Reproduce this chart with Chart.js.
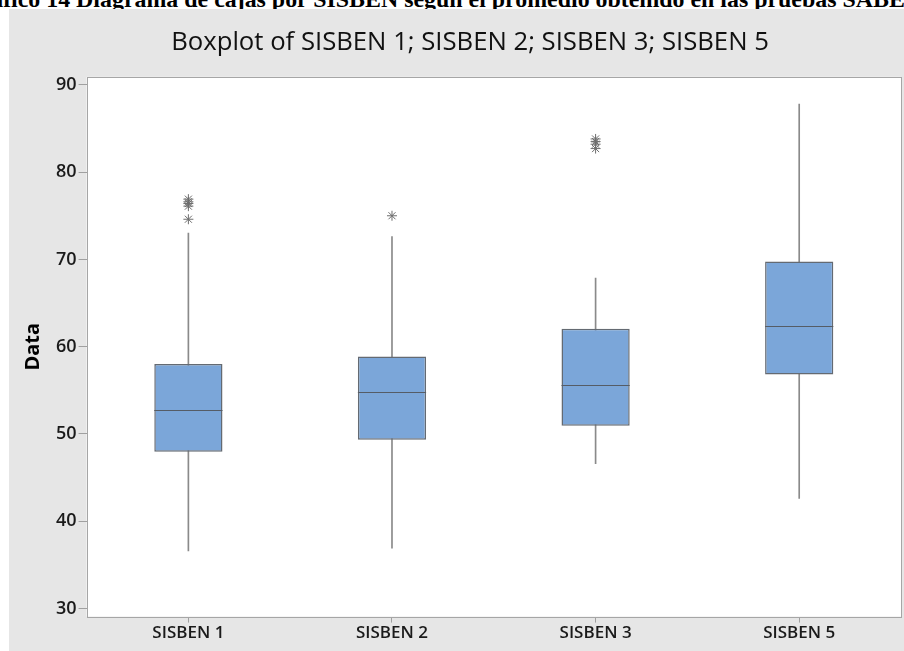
<!DOCTYPE html>
<html><head><meta charset="utf-8">
<script src="https://cdn.jsdelivr.net/npm/chart.js@4.4.0/dist/chart.umd.min.js"></script>
<style>
html,body{margin:0;padding:0;width:904px;height:651px;overflow:hidden;background:#fff;position:relative}
#cap{position:absolute;top:-12px;left:0;white-space:nowrap;font:bold 23.9px "Liberation Serif","Times New Roman",serif;line-height:23px;color:#000}
#wrap{position:absolute;left:9px;top:9px;width:922px;height:642px;background:#e6e6e6}
</style></head><body>
<div id="cap"><span id="pre">Grá</span>fico 14 Diagrama de cajas por SISBEN según el promedio obtenido en las pruebas SABER 11</div>
<div id="wrap"><canvas id="c"></canvas></div>
<script>
const categories = ['SISBEN 1','SISBEN 2','SISBEN 3','SISBEN 5'];
const whiskerLow  = [36.6, 36.9, 46.6, 42.6];
const q1          = [47.96, 49.34, 50.94, 56.82];
const median      = [52.74, 54.8, 55.56, 62.4];
const q3          = [58.0, 58.88, 62.05, 69.76];
const whiskerHigh = [73.0, 72.6, 67.86, 87.8];
const outliers1 = [76.9, 76.6, 76.4, 76.1, 74.6];
const outliers2 = [75.0];
const outliers3 = [83.8, 83.5, 83.2, 82.7];
const outliers5 = [];
const yTicks = [30, 40, 50, 60, 70, 80, 90];

const pre = document.getElementById('pre');
document.getElementById('cap').style.left = (-(pre.offsetWidth) + 3) + 'px';

const outlierPoints = [];
[outliers1, outliers2, outliers3, outliers5].forEach((arr, i) =>
  arr.forEach(v => outlierPoints.push({x: categories[i], y: v})));

const plotFrame = {
  id: 'plotFrame',
  beforeDraw(chart) {
    const {ctx, chartArea: a} = chart;
    ctx.save();
    ctx.fillStyle = '#ffffff';
    ctx.fillRect(a.left, a.top, a.width, a.height);
    ctx.restore();
  },
  afterDatasetsDraw(chart) {
    const {ctx, chartArea: a} = chart;
    const ys = chart.scales.y;
    const meta = chart.getDatasetMeta(1);
    ctx.save();
    ctx.strokeStyle = '#555c66';
    ctx.lineWidth = 1.2;
    meta.data.forEach((bar, i) => {
      const py = Math.round(ys.getPixelForValue(median[i])) + 0.5;
      const half = bar.width / 2;
      ctx.beginPath();
      ctx.moveTo(bar.x - half, py);
      ctx.lineTo(bar.x + half, py);
      ctx.stroke();
    });
    ctx.strokeStyle = '#a6a6a6';
    ctx.lineWidth = 1;
    ctx.strokeRect(Math.round(a.left) + 0.5, Math.round(a.top) + 0.5, Math.round(a.width), Math.round(a.height));
    ctx.restore();
  }
};

const tickFont = {family: 'Open Sans', size: 17, weight: '600'};

new Chart(document.getElementById('c'), {
  type: 'bar',
  data: {
    labels: categories,
    datasets: [
      {
        type: 'bar', label: 'Whisker',
        data: categories.map((c, i) => [whiskerLow[i], whiskerHigh[i]]),
        backgroundColor: '#8a8a8a', barThickness: 1, grouped: false, order: 3
      },
      {
        type: 'bar', label: 'Box',
        data: categories.map((c, i) => [q1[i], q3[i]]),
        backgroundColor: '#7ba6d9', borderColor: '#646a72', borderWidth: 1.5,
        borderSkipped: false, barPercentage: 0.335, categoryPercentage: 1,
        grouped: false, order: 2
      },
      {
        type: 'line', label: 'Outliers',
        data: outlierPoints, showLine: false, pointStyle: 'star',
        pointRadius: 5, borderColor: '#6e6e6e', borderWidth: 1,
        backgroundColor: 'transparent', order: 1
      }
    ]
  },
  options: {
    responsive: true, maintainAspectRatio: false, animation: false,
    layout: {padding: {left: 30, right: 30, top: 0, bottom: 8}},
    plugins: {
      legend: {display: false},
      tooltip: {enabled: false},
      title: {
        display: true, text: 'Boxplot of SISBEN 1; SISBEN 2; SISBEN 3; SISBEN 5',
        color: '#111111', font: {family: 'Open Sans', size: 25.7, weight: 'normal'},
        padding: {top: 18, bottom: 19}
      }
    },
    scales: {
      x: {
        type: 'category', offset: true,
        grid: {display: true, drawOnChartArea: false, drawTicks: true, tickLength: 6, color: '#a0a0a0', offset: false},
        border: {display: false},
        ticks: {color: '#1a1a1a', font: tickFont, padding: 0}
      },
      y: {
        min: 29.06, max: 90.92,
        afterBuildTicks: s => { s.ticks = yTicks.map(v => ({value: v})); },
        grid: {drawOnChartArea: false, drawTicks: true, tickLength: 8, color: '#a0a0a0'},
        border: {display: false},
        ticks: {color: '#1a1a1a', font: {family: 'Open Sans', size: 18, weight: '600'}, padding: 2},
        title: {display: true, text: 'Data', color: '#000',
          font: {family: 'Open Sans', size: 20, weight: 'bold'},
          padding: {top: -18, bottom: 9}}
      }
    }
  },
  plugins: [plotFrame]
});
</script>
</body></html>
